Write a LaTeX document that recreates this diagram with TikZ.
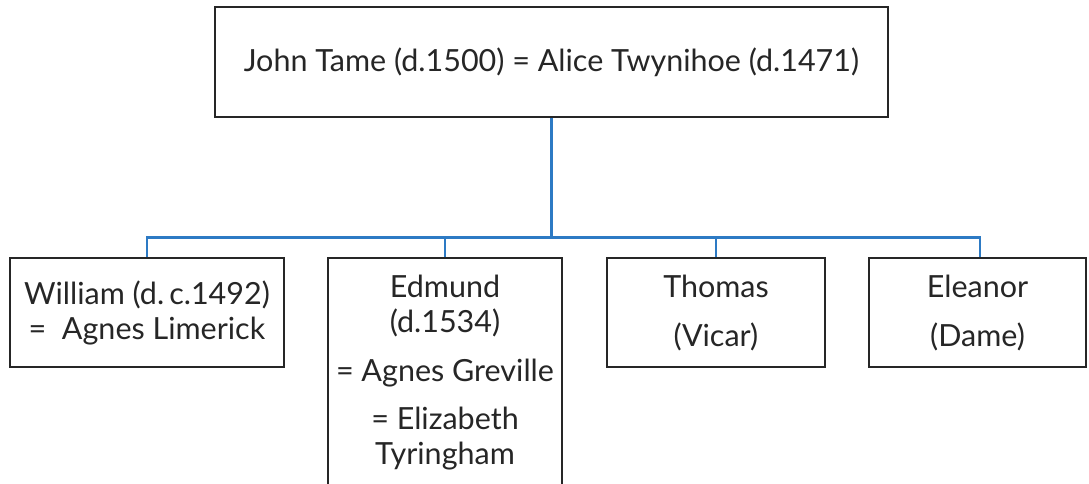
\documentclass[tikz,border=0pt]{standalone}
\usepackage{fontspec}
\setmainfont{Lato}
\begin{document}
\begin{tikzpicture}[x=1pt,y=1pt,
  every node/.style={font=\fontsize{30.5}{35}\selectfont, text=black!85},
  person/.style={draw=black!85, line width=2.4pt, rectangle, align=center, inner sep=0pt},
  conn/.style={draw={rgb,255:red,45;green,122;blue,196}, line width=2.6pt}]
\useasboundingbox (0,0) rectangle (1089,-483);
\node[person, minimum width=673, minimum height=110] (top) at (551.5,-62) {John Tame (d.1500) = Alice Twynihoe (d.1471)};
\node[person, minimum width=274, minimum height=109] (william) at (147,-312.5) {William (d.\,c.1492)\\=\ \ Agnes Limerick};
\node[person, minimum width=234, minimum height=229] (edmund) at (445,-372.5) {Edmund\\(d.1534)\\[14pt]= Agnes Greville\\[13pt]= Elizabeth\\Tyringham};
\node[person, minimum width=218, minimum height=109] (thomas) at (716,-312.5) {Thomas\\[14pt](Vicar)};
\node[person, minimum width=217, minimum height=109] (eleanor) at (977.5,-312.5) {Eleanor\\[14pt](Dame)};
\foreach \c in {william,edmund,thomas}
  \draw[conn] (top.south) -- ++(0,-119) -| (\c.north);
\draw[conn] (top.south) -- ++(0,-119) -| ([xshift=2.5pt]eleanor.north);
\end{tikzpicture}
\end{document}
